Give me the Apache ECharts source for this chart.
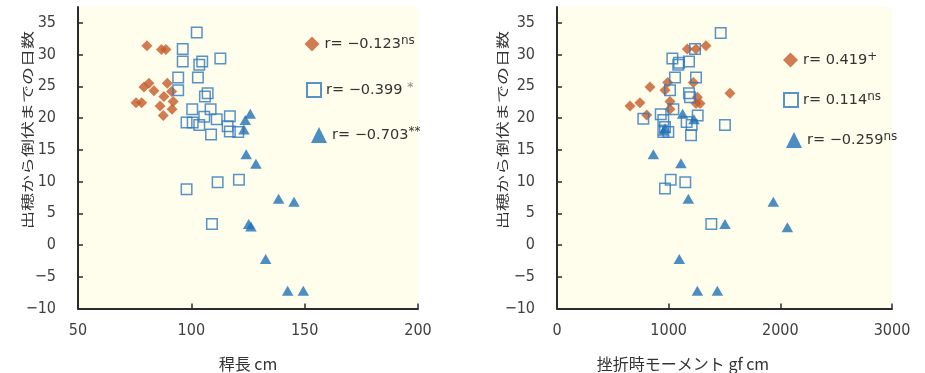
<!DOCTYPE html>
<html><head><meta charset="utf-8">
<script src="https://cdn.jsdelivr.net/npm/echarts@6/dist/echarts.min.js"></script>
<style>html,body{margin:0;padding:0;background:#fff}#c{width:925px;height:373px}</style>
</head><body><div id="c"></div>
<script>
// ---- data ----
const yTicks = [-10, -5, 0, 5, 10, 15, 20, 25, 30, 35];
const xTicksL = [50, 100, 150, 200];
const xTicksR = [0, 1000, 2000, 3000];
const yName = '出穂から倒伏までの日数';
const xNameL = '稈長 cm';
const xNameR = '挫折時モーメント gf cm';

// 稈長 (cm) vs days
const diamondsL = [[80.4,31.4],[86.8,30.8],[88.8,30.8],[81.3,25.5],[79.1,24.9],[83.5,24.3],[89.4,25.5],[87.9,23.4],[91.3,24.2],[75.6,22.4],[78.1,22.4],[86.2,21.9],[92.0,22.6],[91.5,21.4],[87.6,20.4]];
const squaresL = [[102.4,33.5],[96.2,30.9],[96.2,28.9],[104.8,28.9],[103.5,28.4],[112.8,29.4],[94.2,26.4],[102.9,26.4],[94.2,24.4],[107.2,23.9],[106.0,23.4],[100.4,21.4],[108.5,21.4],[97.9,19.3],[100.6,19.3],[103.5,18.9],[105.7,20.2],[111.2,19.8],[117.0,20.3],[116.0,18.7],[117.0,17.9],[120.7,17.8],[108.7,17.4],[97.9,8.8],[111.6,9.9],[121.0,10.3],[109.1,3.3]];
const trianglesL = [[126.0,20.7],[123.8,19.7],[123.2,18.2],[124.2,14.3],[128.5,12.8],[138.5,7.3],[145.3,6.8],[125.3,3.3],[126.3,2.9],[132.8,-2.2],[142.5,-7.2],[149.4,-7.2]];

// 挫折時モーメント (gf cm) vs days
const diamondsR = [[1167,30.9],[1245,30.9],[1334,31.4],[833,24.9],[991,25.6],[967,24.4],[1221,25.6],[1549,23.9],[1257,23.3],[1281,22.3],[1245,22.3],[654,21.9],[743,22.4],[803,20.5],[1012,22.6],[1012,21.4]];
const squaresR = [[1466,33.4],[1236,30.9],[1033,29.4],[1093,28.7],[1182,28.9],[1086,28.4],[1057,26.4],[1245,26.4],[1012,24.4],[1182,23.9],[1191,23.3],[1042,21.4],[773,19.9],[929,20.6],[952,19.7],[967,18.6],[997,17.8],[952,17.8],[1260,20.4],[1161,19.4],[1206,18.9],[1200,17.3],[1504,18.9],[1018,10.3],[967,8.9],[1149,9.9],[1382,3.3]];
const trianglesR = [[1125,20.7],[1227,19.8],[967,18.4],[955,18.0],[863,14.3],[1110,12.9],[1176,7.3],[1937,6.8],[1504,3.3],[2063,2.8],[1095,-2.2],[1257,-7.2],[1436,-7.2]];

// legend texts: [main, superscript]
const legendL = [['r= −0.123','ns'],['r= −0.399 ','*'],['r= −0.703','**']];
const legendR = [['r= 0.419','+'],['r= 0.114','ns'],['r= −0.259','ns']];

// ---- styles ----
const C_DIA = '#C55A29', C_SQ = '#2E78BE', C_TRI = '#1F72B8';
const BG = '#FFFDEB';
const tickFont = '"Liberation Sans Narrow","DejaVu Sans Condensed","Liberation Sans",sans-serif';
const legFont = '"DejaVu Sans",sans-serif';
const cjk = '"Noto Sans CJK JP",sans-serif';
const minus = v => String(v).replace('-', '−');

function xAxis(gi, min, max, interval, ticks) {
  return {
    type: 'value', gridIndex: gi, min, max, interval,
    axisLine: {show: true, onZero: false, lineStyle: {color: '#2b2b2b', width: 2}},
    axisTick: {show: true, inside: true, length: 5, lineStyle: {color: '#2b2b2b', width: 1.5}, customValues: ticks},
    axisLabel: {fontSize: 16, color: '#404040', fontFamily: tickFont, margin: 14, customValues: ticks, formatter: minus},
    splitLine: {show: false}
  };
}
function yAxis(gi) {
  return {
    type: 'value', gridIndex: gi, min: -10, max: 37.5, interval: 5,
    axisLine: {show: true, onZero: false, lineStyle: {color: '#2b2b2b', width: 2}},
    axisTick: {show: true, inside: true, length: 5, lineStyle: {color: '#2b2b2b', width: 1.5}, customValues: yTicks},
    axisLabel: {fontSize: 16, color: '#404040', fontFamily: tickFont, margin: 22, customValues: yTicks, formatter: minus},
    splitLine: {show: false}
  };
}
function series(name, gi, data, kind) {
  const s = {name, type: 'scatter', xAxisIndex: gi, yAxisIndex: gi, data, silent: true};
  if (kind === 'd') { s.symbol = 'diamond'; s.symbolSize = 11; s.itemStyle = {color: C_DIA}; }
  if (kind === 's') { s.symbol = 'rect'; s.symbolSize = 10.5; s.itemStyle = {color: 'rgba(0,0,0,0)', borderColor: C_SQ, borderWidth: 1.5}; }
  if (kind === 't') { s.symbol = 'triangle'; s.symbolSize = [11.5, 10]; s.itemStyle = {color: C_TRI}; }
  return s;
}
const rich = {
  v: {fontSize: 14.5, fontFamily: legFont, color: '#333', lineHeight: 18},
  s: {fontSize: 12, fontFamily: legFont, color: '#333', lineHeight: 18, verticalAlign: 'top'},
  g: {fontSize: 13, fontFamily: legFont, color: '#888', lineHeight: 18, verticalAlign: 'top'}
};
function legend(name, pair, icon, left, top, size, styleObj, gray) {
  return {
    data: [name], left, top, icon, itemWidth: size, itemHeight: size, selectedMode: false, padding: 0,
    itemStyle: styleObj,
    formatter: () => '{v|' + pair[0] + '}{' + (gray ? 'g' : 's') + '|' + pair[1] + '}',
    textStyle: {rich}
  };
}
const stD = {color: C_DIA, borderWidth: 0};
const stS = {color: 'rgba(0,0,0,0)', borderColor: C_SQ, borderWidth: 2};
const stT = {color: C_TRI, borderWidth: 0};

const option = {
  animation: false,
  grid: [
    {left: 78, top: 7, width: 340, height: 301.5, show: true, backgroundColor: BG, borderWidth: 0},
    {left: 557, top: 7, width: 335, height: 301.5, show: true, backgroundColor: BG, borderWidth: 0}
  ],
  xAxis: [xAxis(0, 50, 200, 50, xTicksL), xAxis(1, 0, 3000, 1000, xTicksR)],
  yAxis: [yAxis(0), yAxis(1)],
  legend: [
    legend('L1', legendL[0], 'diamond', 304.5, 35, 15, stD),
    legend('L2', legendL[1], 'rect', 306, 81, 14, stS, true),
    legend('L3', legendL[2], 'triangle', 311, 126, 16, stT),
    legend('R1', legendR[0], 'diamond', 783, 51, 15, stD),
    legend('R2', legendR[1], 'rect', 783, 91, 14, stS),
    legend('R3', legendR[2], 'triangle', 786, 131, 16, stT)
  ],
  series: [
    series('L1', 0, diamondsL, 'd'), series('L2', 0, squaresL, 's'), series('L3', 0, trianglesL, 't'),
    series('R1', 1, diamondsR, 'd'), series('R2', 1, squaresR, 's'), series('R3', 1, trianglesR, 't')
  ],
  graphic: [
    {type: 'text', x: 27, y: 130, rotation: Math.PI / 2, scaleY: 0.7,
      style: {text: yName, font: '18px ' + cjk, fill: '#333', align: 'center', verticalAlign: 'middle'}},
    {type: 'text', x: 502, y: 130, rotation: Math.PI / 2, scaleY: 0.7,
      style: {text: yName, font: '18px ' + cjk, fill: '#333', align: 'center', verticalAlign: 'middle'}},
    {type: 'text', x: 248, y: 364, style: {text: xNameL, font: '16px ' + cjk, fill: '#333', align: 'center', verticalAlign: 'middle'}},
    {type: 'text', x: 683, y: 364, style: {text: xNameR, font: '16px ' + cjk, fill: '#333', align: 'center', verticalAlign: 'middle'}}
  ]
};
const chart = echarts.init(document.getElementById('c'), null, {renderer: 'canvas'});
chart.setOption(option);
</script>
</body></html>
